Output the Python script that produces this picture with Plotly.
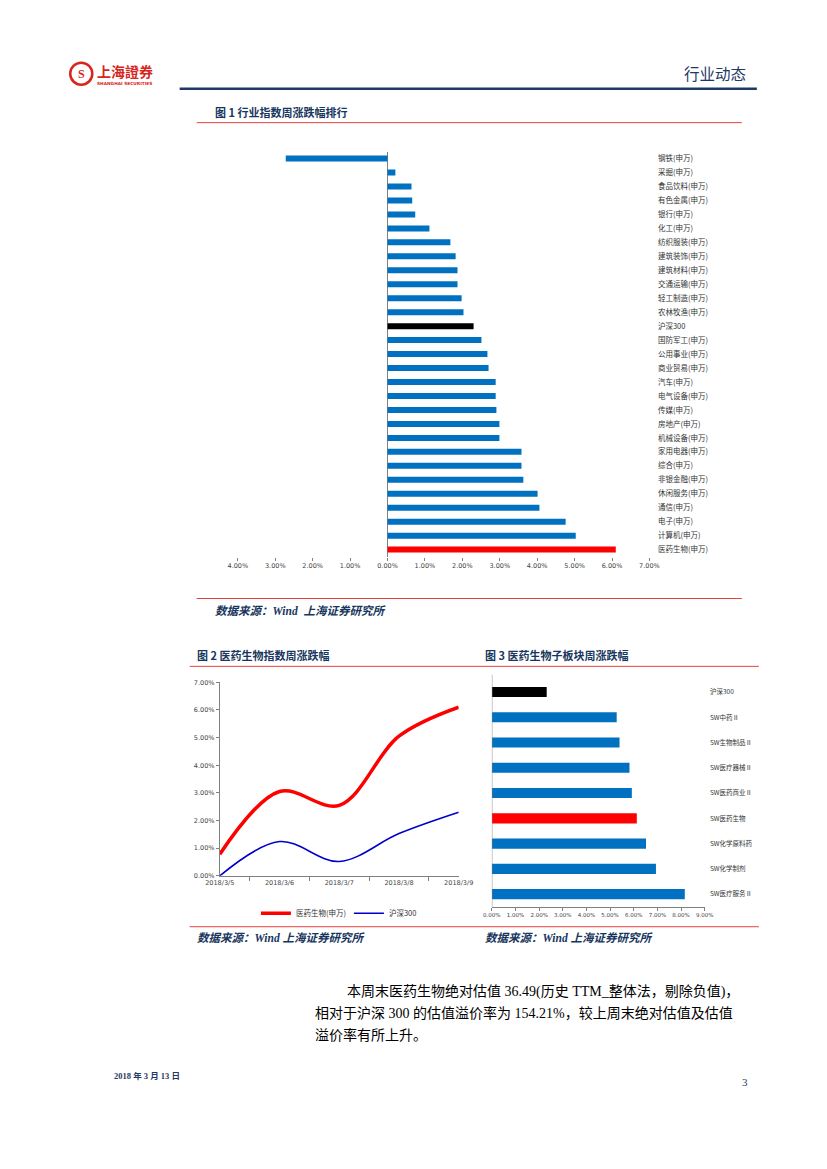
import plotly.graph_objects as go

W, H = 827, 1169

# observed picture mapping compensation (picture = 16 + 0.96*x ; y nearly 1:1)
SX, OX = 0.96, 16.0
SY, OY = 0.9955, 22.0


def fx(t):
    """target picture x (px) -> paper fraction"""
    return ((t - OX) / SX) / W


def fy(t):
    """target picture y (px from top) -> paper fraction"""
    return 1 - (((t - OY) / SY) + 20) / H


# ---------------- data ----------------
ind_names = ["钢铁(申万)", "采掘(申万)", "食品饮料(申万)", "有色金属(申万)", "银行(申万)",
             "化工(申万)", "纺织服装(申万)", "建筑装饰(申万)", "建筑材料(申万)", "交通运输(申万)",
             "轻工制造(申万)", "农林牧渔(申万)", "沪深300", "国防军工(申万)", "公用事业(申万)",
             "商业贸易(申万)", "汽车(申万)", "电气设备(申万)", "传媒(申万)", "房地产(申万)",
             "机械设备(申万)", "家用电器(申万)", "综合(申万)", "非银金融(申万)", "休闲服务(申万)",
             "通信(申万)", "电子(申万)", "计算机(申万)", "医药生物(申万)"]
ind_vals = [-2.72, 0.21, 0.64, 0.66, 0.74, 1.12, 1.68, 1.82, 1.87, 1.87,
            1.98, 2.03, 2.30, 2.51, 2.67, 2.70, 2.89, 2.89, 2.91, 2.99,
            2.99, 3.58, 3.58, 3.63, 4.01, 4.06, 4.76, 5.03, 6.10]
ind_ticks = [-4, -3, -2, -1, 0, 1, 2, 3, 4, 5, 6, 7]

dates = ["2018/3/5", "2018/3/6", "2018/3/7", "2018/3/8", "2018/3/9"]
med_vals = [0.78, 3.05, 2.55, 5.05, 6.10]
hs300_vals = [0.00, 1.24, 0.52, 1.53, 2.30]
line_ticks = [0, 1, 2, 3, 4, 5, 6, 7]

sub_names = ["沪深300", "SW中药Ⅱ", "SW生物制品Ⅱ", "SW医疗器械Ⅱ", "SW医药商业Ⅱ",
             "SW医药生物", "SW化学原料药", "SW化学制剂", "SW医疗服务Ⅱ"]
sub_vals = [2.32, 5.28, 5.40, 5.82, 5.92, 6.13, 6.52, 6.94, 8.16]
sub_ticks = [0, 1, 2, 3, 4, 5, 6, 7, 8, 9]

BLUE = "#0070C0"
RED = "#FF0000"
BLACK = "#000000"
NAVY = "#17365D"
CJK = "Noto Sans CJK SC"
SERIF = "Liberation Serif, Noto Sans CJK SC"


def bar_colors(names):
    cols = []
    for n in names:
        if n == "沪深300":
            cols.append(BLACK)
        elif n in ("医药生物(申万)", "SW医药生物"):
            cols.append(RED)
        else:
            cols.append(BLUE)
    return cols


fig = go.Figure()

fig.add_trace(go.Bar(x=ind_vals, y=ind_names, orientation="h", width=0.43,
                     marker=dict(color=bar_colors(ind_names), line=dict(width=0)),
                     xaxis="x", yaxis="y", showlegend=False))

fig.add_trace(go.Scatter(x=dates, y=med_vals, mode="lines", name="医药生物(申万)",
                         line=dict(color=RED, width=3.5, shape="spline", smoothing=1.0),
                         xaxis="x2", yaxis="y2"))
fig.add_trace(go.Scatter(x=dates, y=hs300_vals, mode="lines", name="沪深300",
                         line=dict(color="#0000CC", width=1.6, shape="spline", smoothing=1.0),
                         xaxis="x2", yaxis="y2"))

fig.add_trace(go.Bar(x=sub_vals, y=sub_names, orientation="h", width=0.4,
                     marker=dict(color=bar_colors(sub_names), line=dict(width=0)),
                     xaxis="x3", yaxis="y3", showlegend=False))

tickfont = dict(family="DejaVu Sans, " + CJK, size=6.5, color="#444444")

fig.update_layout(
    width=W, height=H, margin=dict(l=0, r=0, t=0, b=0),
    paper_bgcolor="white", plot_bgcolor="white",
    font=dict(family=CJK),
    xaxis=dict(domain=[fx(238), fx(648)], range=[-4, 7], anchor="y",
               tickvals=ind_ticks, ticktext=["%.2f%%" % abs(v) for v in ind_ticks],
               showgrid=False, zeroline=True, zerolinecolor="#808080", zerolinewidth=1,
               showline=False, ticks="outside", ticklen=3, tickcolor="#808080",
               tickfont=tickfont),
    yaxis=dict(domain=[fy(556), fy(150)], anchor="x", type="category",
               autorange="reversed", side="right", showgrid=False, zeroline=False,
               showline=False, ticks="outside", ticklen=6, tickcolor="rgba(0,0,0,0)",
               tickfont=dict(family=CJK, size=7.5, color="#333333")),
    xaxis2=dict(domain=[fx(220), fx(458)], anchor="y2", type="category",
                showgrid=False, showline=True, linecolor="#808080", linewidth=1,
                ticks="outside", tickson="boundaries", ticklen=4, tickcolor="#808080",
                tickfont=tickfont),
    yaxis2=dict(domain=[fy(876), fy(682)], anchor="x2", range=[0, 7],
                tickvals=line_ticks, ticktext=["%.2f%%" % v for v in line_ticks],
                showgrid=False, zeroline=False, showline=True, linecolor="#808080",
                linewidth=1, ticks="outside", ticklen=3, tickcolor="#808080",
                tickfont=tickfont),
    xaxis3=dict(domain=[fx(491), fx(703)], anchor="y3", range=[0, 9],
                tickvals=sub_ticks, ticktext=["%.2f%%" % v for v in sub_ticks],
                showgrid=False, zeroline=False, showline=True, linecolor="#808080",
                linewidth=1, ticks="outside", ticklen=3, tickcolor="#808080",
                tickfont=dict(family="DejaVu Sans", size=5.5, color="#444444")),
    yaxis3=dict(domain=[fy(907), fy(679)], anchor="x3", type="category",
                autorange="reversed", side="right", showgrid=False, zeroline=False,
                showline=False, ticks="outside", ticklen=3, tickcolor="rgba(0,0,0,0)",
                tickfont=dict(family=CJK, size=6.5, color="#333333")),
    legend=dict(orientation="h", x=fx(256), y=fy(899), xanchor="left", yanchor="top",
                font=dict(family=CJK, size=7.5, color="#333333"), itemwidth=30,
                entrywidth=48, bgcolor="rgba(0,0,0,0)", tracegroupgap=0),
)

shapes = []
shapes.append(dict(type="line", xref="paper", yref="paper", x0=fx(180), x1=fx(755),
                   y0=fy(87), y1=fy(87), line=dict(color="#1F3864", width=2.5)))
for (x0, x1, y) in [(197, 740, 121), (197, 740, 598), (190, 757, 666), (190, 757, 927)]:
    shapes.append(dict(type="line", xref="paper", yref="paper", x0=fx(x0), x1=fx(x1),
                       y0=fy(y), y1=fy(y), line=dict(color="#E8413C", width=1)))
shapes.append(dict(type="line", xref="x3", yref="y3 domain", x0=0, x1=0, y0=0, y1=1.02,
                   line=dict(color="#808080", width=1)))
shapes.append(dict(type="circle", xref="paper", yref="paper", x0=fx(71), x1=fx(93),
                   y0=fy(83), y1=fy(61), line=dict(color="#D7261E", width=2.5)))
fig.update_layout(shapes=shapes)

ann = []


def text(x, y, s, size, color="#000000", family=CJK, xanchor="left", bold=False, italic=False):
    if bold:
        s = "<b>" + s + "</b>"
    if italic:
        s = "<i>" + s + "</i>"
    ann.append(dict(x=fx(x), y=fy(y), xref="paper", yref="paper", text=s, showarrow=False,
                    xanchor=xanchor, yanchor="middle", font=dict(size=size, color=color, family=family)))


text(82, 72, "S", 12, "#D7261E", "Liberation Serif", "center", bold=True)
text(96, 69, "上海證券", 14, "#D7261E", CJK, bold=True)
text(96, 82, "SHANGHAI SECURITIES", 4.3, "#D7261E", "DejaVu Sans", bold=True)
text(746, 71, "行业动态", 15.5, "#1F3864", CJK, "right")

text(213, 110, "图 1 行业指数周涨跌幅排行", 11, NAVY, CJK, bold=True)
text(213, 611, "数据来源：Wind  上海证券研究所", 11.5, NAVY, SERIF, bold=True, italic=True)

text(195, 655, "图 2 医药生物指数周涨跌幅", 11, NAVY, CJK, bold=True)
text(482, 655, "图 3 医药生物子板块周涨跌幅", 11, NAVY, CJK, bold=True)
text(195, 938, "数据来源：Wind 上海证券研究所", 11.5, NAVY, SERIF, bold=True, italic=True)
text(482, 938, "数据来源：Wind 上海证券研究所", 11.5, NAVY, SERIF, bold=True, italic=True)

text(345, 992, "本周末医药生物绝对估值 36.49(历史 TTM_整体法，剔除负值)，", 14, "#000000", SERIF)
text(313, 1013, "相对于沪深 300 的估值溢价率为 154.21%，较上周末绝对估值及估值", 14, "#000000", SERIF)
text(313, 1036, "溢价率有所上升。", 14, "#000000", SERIF)

text(113, 1077, "2018 年 3 月 13 日", 8.5, "#1F3864", SERIF, bold=True)
text(748, 1083, "3", 11, "#1F3864", SERIF, "right")

fig.update_layout(annotations=ann)

fig.write_html("out.html", config={"displayModeBar": False},
               post_script="document.body.style.margin='0';document.body.style.padding='0';"
                           "document.documentElement.style.overflow='hidden';")
